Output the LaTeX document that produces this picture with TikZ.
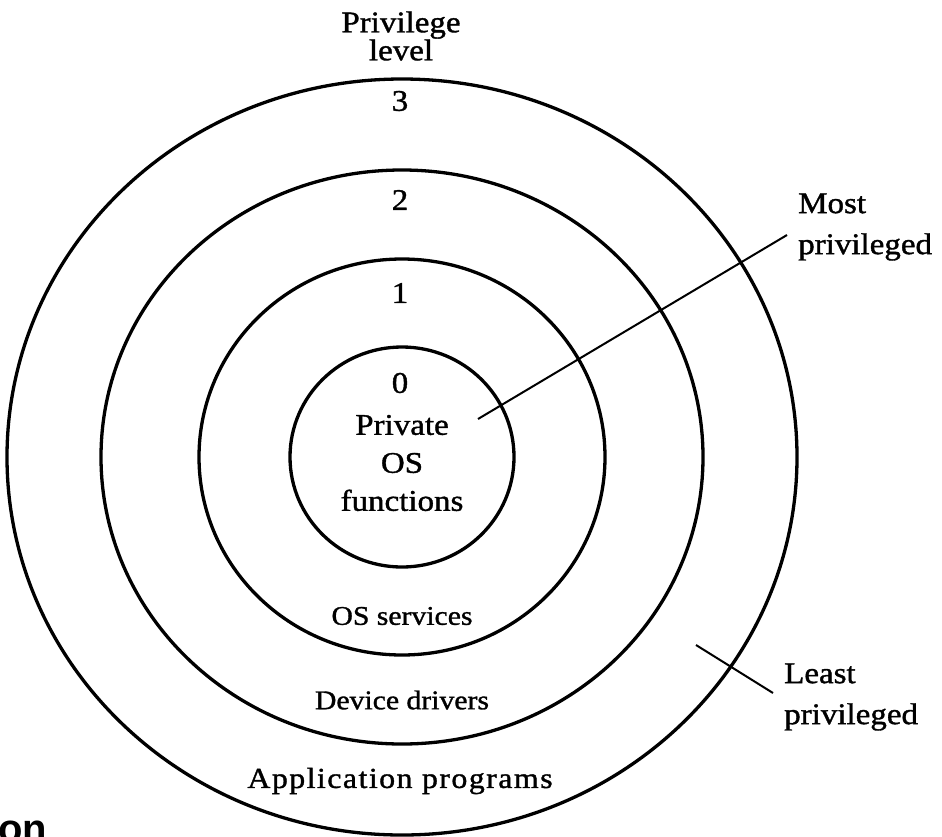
\documentclass[tikz,border=0pt]{standalone}
\usepackage{fontspec}
\setmainfont{Liberation Serif}[FakeStretch=1.1,FakeBold=1.2]
\newfontfamily\headsans{Liberation Sans}
\begin{document}
\begin{tikzpicture}[x=1pt,y=-1pt,
  ring/.style={line width=3.3pt},
  pointer/.style={line width=2pt},
  lbl/.style={inner sep=0pt,font=\fontsize{30}{32}\selectfont,align=center},
  small/.style={inner sep=0pt,font=\fontsize{27}{30}\selectfont,align=center},
  side/.style={inner sep=0pt,font=\fontsize{30}{41}\selectfont,align=left,anchor=west}]
  \useasboundingbox (0,0) rectangle (942,836);
  % concentric privilege rings
  \coordinate (c) at (402,457);
  \draw[ring] (c) ellipse [x radius=395, y radius=378];
  \draw[ring] (c) ellipse [x radius=301, y radius=287];
  \draw[ring] (c) ellipse [x radius=203, y radius=198];
  \draw[ring] (c) ellipse [x radius=112, y radius=110];
  % level numbers
  \node[lbl] (title) at (401,36) {Privilege\\[-4pt]level};
  \node[lbl] (l3) at (400,101) {3};
  \node[lbl] (l2) at (400,200) {2};
  \node[lbl] (l1) at (400,293) {1};
  \node[lbl] (l0) at (400,383) {0};
  % ring contents
  \node[lbl] (core) at (402,463) {Private\\[6pt]OS\\[6pt]functions};
  \node[small] (svc) at (402,616) {OS services};
  \node[small] (drv) at (402,700) {Device drivers};
  \node[inner sep=0pt,font=\fontsize{29}{32}\selectfont\addfontfeature{LetterSpace=5}] (app) at (400,781) {Application programs};
  % side annotations
  \node[side] (most) at (798,227) {Most\\privileged};
  \node[side] (least) at (784,697) {Least\\privileged};
  \coordinate (mostin) at (478,419);
  \coordinate (mostout) at (787,235);
  \coordinate (leastin) at (696,645);
  \coordinate (leastout) at (773,693);
  \draw[pointer] (mostin) -- (mostout);
  \draw[pointer] (leastin) -- (leastout);
  % caption fragment at the lower left
  \node[inner sep=0pt,anchor=base west,font=\headsans\bfseries\fontsize{40}{42}\selectfont] (frag) at (-2,842) {on};
\end{tikzpicture}
\end{document}
